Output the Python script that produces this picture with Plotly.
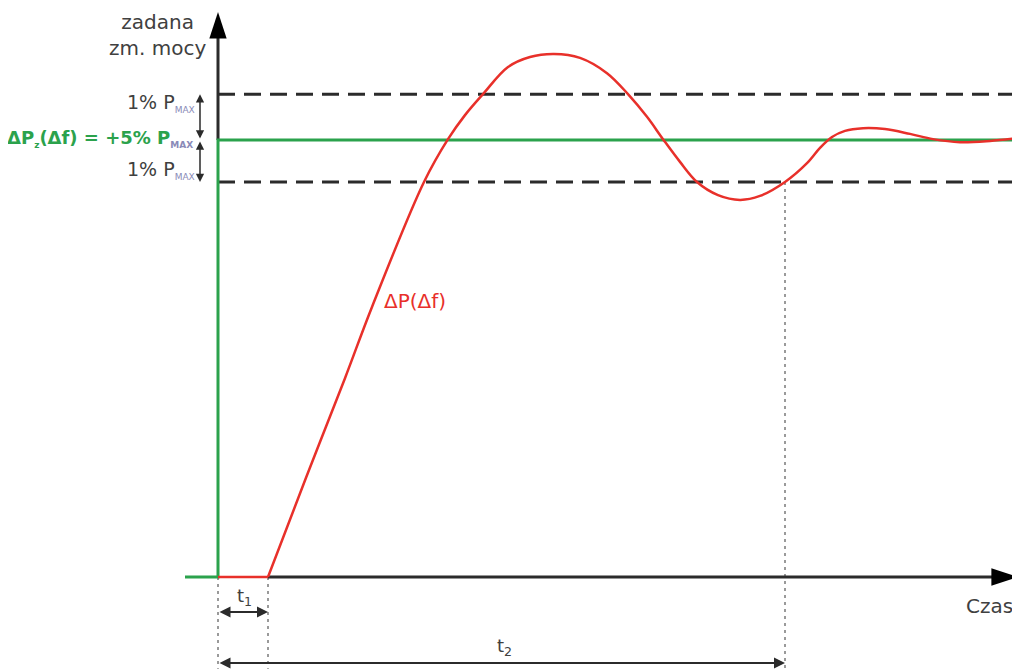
import plotly.graph_objects as go

# czas w jednostkach umownych, moc: 100 = zadana zmiana mocy (+5% Pmax)
t_dead = [0, 5.0]
p_dead = [0, 0]
t_resp = [5.0, 8.8, 12.7, 15.4, 20.6, 23.0, 24.7, 26.5, 29.0,
          31.2, 33.6, 36.2, 38.9, 41.0, 42.9, 44.5, 46.2, 47.9, 50.0, 52.2, 54.2,
          56.7, 58.9, 60.2, 61.4, 62.7, 64.5, 66.7, 69.2, 71.5, 74.2, 77.2, 80.2]
p_resp = [0, 22.7, 45.5, 61.8, 90.4, 100.2, 105.7, 110.5, 116.7,
          119.0, 119.7, 118.8, 115.3, 110.5, 105.3, 100.2, 95.0, 90.4, 87.4, 86.3, 87.2,
          90.4, 94.7, 98.2, 100.7, 102.1, 102.7, 102.5, 101.4, 100.2, 99.5, 99.8, 100.5]
t_set = [-3.3, 0, 0, 80.2]
p_set = [0, 0, 100, 100]
band = [90.4, 110.5]
t1 = 5.0
t2 = 56.7
t_end = 80.2

GREEN = "#2ba24c"
RED = "#e8302a"
DARK = "#2b2b2b"
GREY = "#404040"
DOT = "#9a9a9a"
FONT = "DejaVu Sans"

fig = go.Figure()

# pasek tolerancji +/- 1% Pmax
for b in band:
    fig.add_trace(go.Scatter(x=[0, t_end], y=[b, b], mode="lines",
                             line=dict(color=DARK, width=3, dash="17px,9px")))

# linie kropkowane do t1 i t2
for tx, top in [(0, 0), (t1, 0), (t2, band[0])]:
    fig.add_trace(go.Scatter(x=[tx, tx], y=[top, -21], mode="lines",
                             line=dict(color=DOT, width=2, dash="3px,4px")))

# osie
fig.add_trace(go.Scatter(x=[t1, 78.5], y=[0, 0], mode="lines",
                         line=dict(color=DARK, width=3)))
fig.add_trace(go.Scatter(x=[0, 0], y=[100, 124], mode="lines",
                         line=dict(color=DARK, width=3)))
fig.add_trace(go.Scatter(x=[80.0], y=[0], mode="markers",
                         marker=dict(symbol="arrow", angle=90, size=28, color="black",
                                     line=dict(width=0))))
fig.add_trace(go.Scatter(x=[0], y=[129.3], mode="markers",
                         marker=dict(symbol="arrow", angle=0, size=28, color="black",
                                     line=dict(width=0))))

# wartosc zadana
fig.add_trace(go.Scatter(x=t_set, y=p_set, mode="lines",
                         line=dict(color=GREEN, width=3)))

# odpowiedz mocy
fig.add_trace(go.Scatter(x=t_dead, y=p_dead, mode="lines",
                         line=dict(color=RED, width=2.5)))
fig.add_trace(go.Scatter(x=t_resp, y=p_resp, mode="lines",
                         line=dict(color=RED, width=2.5, shape="spline", smoothing=1.0)))

# strzalki t1, t2
for tx, ty in [(t1, -8.0), (t2, -19.7)]:
    fig.add_annotation(x=tx, y=ty, ax=0, ay=ty, xref="x", yref="y", axref="x", ayref="y",
                       text="", showarrow=True, arrowhead=2, arrowside="end+start",
                       arrowsize=1.1, arrowwidth=2, arrowcolor=DARK)

# strzalki 1% Pmax
for b in band:
    fig.add_annotation(x=-1.8, y=b, ax=-1.8, ay=100, xref="x", yref="y",
                       axref="x", ayref="y", text="", showarrow=True, arrowhead=2,
                       arrowside="end+start", arrowsize=1.1, arrowwidth=1.5,
                       arrowcolor=DARK)

sub = '<sub><span style="font-size:9px;color:#8a8ab8">MAX</span></sub>'

fig.add_annotation(x=-6.1, y=124.1, text="zadana<br>zm. mocy", showarrow=False,
                   xanchor="center", yanchor="middle", align="center",
                   font=dict(family=FONT, size=20, color=GREY))
for y in [108.5, 93.1]:
    fig.add_annotation(x=-2.1, y=y, text="1% P" + sub, showarrow=False,
                       xanchor="right", yanchor="middle",
                       font=dict(family=FONT, size=19, color=GREY))
fig.add_annotation(x=-2.3, y=100.3,
                   text="<b>ΔP<sub><span style='font-size:9px'>z</span></sub>(Δf) = +5% P"
                        + sub + "</b>",
                   showarrow=False, xanchor="right", yanchor="middle",
                   font=dict(family=FONT, size=18, color=GREEN))

fig.add_annotation(x=16.4, y=63.2, text="ΔP(Δf)", showarrow=False, xanchor="left",
                   font=dict(family=FONT, size=20, color=RED))
fig.add_annotation(x=79.7, y=-6.6, text="Czas", showarrow=False, xanchor="right",
                   font=dict(family=FONT, size=20, color=GREY))
fig.add_annotation(x=2.6, y=-4.6, text="t<sub>1</sub>", showarrow=False,
                   font=dict(family=FONT, size=18, color=GREY))
fig.add_annotation(x=28.6, y=-16.0, text="t<sub>2</sub>", showarrow=False,
                   font=dict(family=FONT, size=18, color=GREY))

# strona ma 8px marginesu, wiec wykres jest o 8px mniejszy
fig.update_xaxes(range=[-21.0, 80.2], visible=False)
fig.update_yaxes(range=[-21.28, 130.21], visible=False)
fig.update_layout(width=1012, height=662, margin=dict(l=0, r=0, t=0, b=0),
                  plot_bgcolor="white", paper_bgcolor="white", showlegend=False)

fig.write_html("out.html")
